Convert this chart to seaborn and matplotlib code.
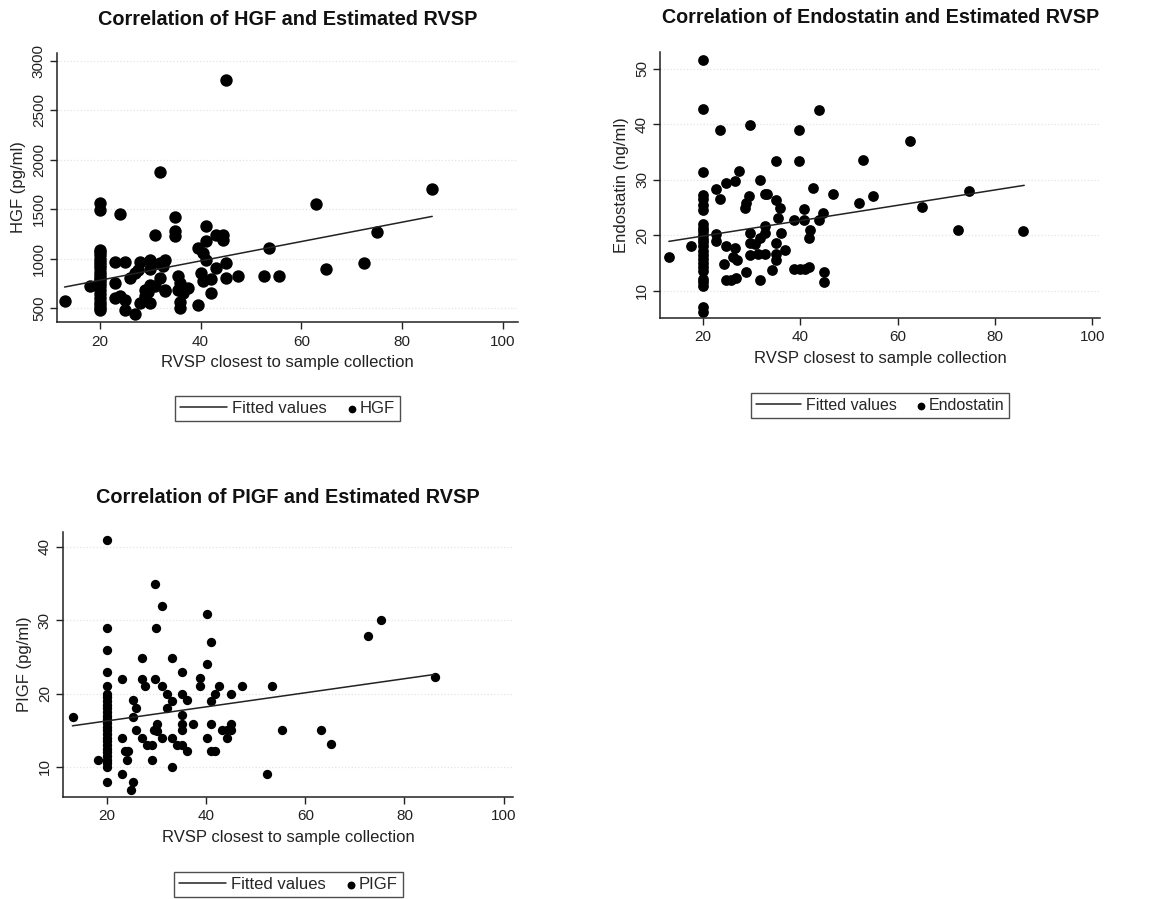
import numpy as np
import pandas as pd
import matplotlib
matplotlib.use('Agg')
import matplotlib.pyplot as plt
from matplotlib.collections import PathCollection
from matplotlib.legend_handler import HandlerPathCollection
import seaborn as sns

sns.set_theme(style='white')
plt.rcParams['font.family'] = ['Liberation Sans', 'DejaVu Sans']

# ---------------- HGF panel ----------------
hgf_rvsp = [13, 18,
            20, 20, 20, 20, 20, 20, 20, 20, 20, 20, 20, 20, 20, 20, 20, 20, 20, 20, 20, 20, 20, 20,
            24, 23, 25, 28, 23, 23, 24, 25, 25, 27, 26, 27, 27.5, 28, 29, 29, 30, 30, 30, 31, 32,
            32, 33, 32.5, 32, 31, 33, 30, 29.5, 33, 35, 35, 35, 35.5, 35.5, 36, 36.5, 36, 36, 37.5,
            39.5, 40.5, 41, 41, 41, 40, 40.5, 42, 42, 39.5, 43, 43, 44.5, 44.5, 45, 45, 45,
            47.5, 52.5, 53.5, 55.5, 63, 65, 72.5, 75, 86]
hgf_vals = [575, 720,
            480, 500, 530, 560, 600, 640, 680, 720, 750, 780, 800, 830, 860, 900, 940, 970,
            1000, 1040, 1070, 1090, 1490, 1560,
            1450, 970, 970, 970, 750, 600, 620, 580, 480, 435, 800, 855, 885, 550, 685, 620, 550,
            990, 890, 1240, 1880,
            955, 990, 920, 800, 720, 685, 735, 660, 670, 1425, 1275, 1225, 820, 685, 750, 650, 565, 500, 700,
            1105, 1055, 990, 1325, 1175, 855, 770, 790, 650, 535, 905, 1240, 1240, 1190, 2810, 955, 800,
            825, 820, 1105, 820, 1550, 890, 960, 1270, 1700]
hgf_fit_x = [13, 86]
hgf_fit_y = [712, 1427]

# ---------------- Endostatin panel ----------------
endo_rvsp = [13, 17.6,
             20, 20, 20, 20, 20, 20, 20, 20, 20, 20, 20, 20, 20, 20, 20, 20, 20, 20, 20, 20, 20, 20, 20, 20, 20,
             22.7, 22.7, 23.6, 22.7, 23.6, 24.8, 24.8, 24.4, 24.8, 26.6, 27.5, 26.6, 26.2, 26.9, 25.8, 26.8,
             28.9, 28.8, 29.5, 28.6, 29.6, 29.6, 29.6, 29.6, 30.6, 31.8, 31.8, 32.7, 33.2, 31.8, 32.7, 32.7,
             32.7, 31.3, 34.2, 35.1, 35.1, 35.8, 35.4, 36.1, 35.1, 35.1, 35.1, 36.8,
             39.7, 39.7, 38.8, 40.8, 40.8, 41.9, 41.7, 38.8, 39.9, 40.9, 41.7, 42.6, 43.8, 43.8, 44.7,
             44.9, 44.9, 46.7, 52, 52.9, 54.9, 62.6, 64.9, 72.4, 74.7, 85.8]
endo_vals = [16.1, 18.0,
             6.2, 7.1, 10.9, 11.5, 12.2, 13.5, 14.3, 15.0, 15.8, 16.5, 17.2, 18.0, 18.7, 19.4, 20.0,
             20.7, 21.4, 22.0, 24.6, 25.5, 26.5, 27.3, 31.4, 42.8, 51.5,
             20.2, 18.9, 39.0, 28.4, 26.6, 29.4, 18.0, 14.9, 12.0, 29.7, 31.5, 17.7, 16.1, 15.5, 11.9, 12.3,
             13.4, 25.9, 27.0, 24.9, 39.9, 20.4, 18.6, 16.4, 18.4, 30.0, 11.9, 27.5, 27.5, 19.5, 21.6, 20.4,
             16.7, 16.7, 13.7, 33.3, 26.4, 24.9, 23.1, 20.4, 18.6, 15.5, 16.7, 17.3,
             39.0, 33.4, 22.8, 24.7, 22.8, 21.0, 19.6, 13.9, 13.9, 13.9, 14.3, 28.5, 42.5, 22.8, 24.0,
             13.4, 11.6, 27.4, 25.9, 33.6, 27.1, 36.9, 25.1, 21.0, 28.0, 20.8]
endo_fit_x = [13, 86]
endo_fit_y = [18.9, 29.0]

# ---------------- PlGF panel ----------------
plgf_rvsp = [13.2, 18.1,
             20, 20, 20, 20, 20, 20, 20, 20, 20,
             20, 20, 20, 20, 20, 20, 20, 20, 20,
             20, 20, 20, 20, 20, 20, 20, 20, 20,
             23, 23, 23, 23.7, 24, 24.2, 24.8, 25.2, 25.2, 25.2, 25.9, 27, 27, 27.7, 25.9, 27, 28, 29, 29,
             29.7, 29.9, 31, 29.7, 31, 32.1, 32.1, 29.5, 30.1, 30.1, 31.1, 33, 33, 33, 34.1, 35.2, 36.1, 33,
             35.1, 35.1, 36.1, 35.1, 35.1, 35.1, 37.3, 38.8, 38.8, 40.1, 40.1, 40.9, 40.1, 40.9, 40.9, 41.8,
             40.9, 41.8, 42.6, 43.2, 44.2, 44.2, 45, 45, 45, 47.2, 52.2, 53.2, 55.2, 63.1, 65.2, 72.7, 75.2, 86.1]
plgf_vals = [16.8, 11.0,
             8, 10, 10.5, 11, 11.5, 12, 12.5, 13, 13.5,
             14, 14.5, 15, 15.5, 16, 16.5, 17, 17.5, 18,
             18.5, 19, 19.5, 20, 21, 23, 26, 29, 41,
             22.0, 14.0, 9.0, 12.1, 11.0, 12.1, 6.9, 8.0, 19.1, 16.8, 18.0, 24.9, 22.0, 21.0, 15.0, 14.0, 13.0, 13.0, 11.0,
             34.9, 29.0, 32.0, 22.0, 21.0, 20.0, 18.0, 15.0, 15.9, 14.9, 14.0, 24.9, 19.0, 14.0, 13.0, 13.0, 12.1, 10.0,
             23.0, 20.0, 19.1, 17.1, 15.9, 15.0, 15.9, 22.1, 21.0, 30.9, 24.0, 27.0, 14.0, 15.9, 12.1, 12.1,
             19.0, 20.0, 21.0, 15.0, 15.0, 14.0, 15.9, 15.0, 20.0, 21.0, 9.0, 21.0, 15.0, 15.0, 13.1, 27.9, 30.0, 22.2]
plgf_fit_x = [13, 86]
plgf_fit_y = [15.6, 22.6]

x_ticks = [20, 40, 60, 80, 100]

fig = plt.figure(figsize=(11.52, 8.99), dpi=100)
fig.patch.set_facecolor('white')

HANDLE_LEN = 2.8


def draw_panel(rect, xs, ys, fx, fy, name, ylabel, title, yticks, ylim, xlim, msize,
               title_pad, title_fs, leg_y, leg_fs, mscale):
    ax = fig.add_axes(rect)
    fit_df = pd.DataFrame({'x': fx, 'y': fy})
    pts_df = pd.DataFrame({'x': xs, 'y': ys})
    sns.lineplot(data=fit_df, x='x', y='y', ax=ax, color='#222222', linewidth=1.1,
                 label='Fitted values', zorder=3)
    sns.scatterplot(data=pts_df, x='x', y='y', ax=ax, color='black', s=msize, linewidth=0,
                    label=name, zorder=2)
    ax.set_xlim(*xlim)
    ax.set_ylim(*ylim)
    ax.set_xticks(x_ticks)
    ax.set_yticks(yticks)
    ax.set_yticklabels([str(t) for t in yticks], rotation=90, va='center')
    ax.tick_params(axis='both', which='major', direction='out', length=5, width=1,
                   color='#222222', labelsize=11, labelcolor='#222222',
                   bottom=True, left=True)
    ax.tick_params(axis='x', pad=4)
    ax.tick_params(axis='y', pad=3)
    for sp in ['top', 'right']:
        ax.spines[sp].set_visible(False)
    for sp in ['left', 'bottom']:
        ax.spines[sp].set_color('#222222')
        ax.spines[sp].set_linewidth(1.1)
    ax.yaxis.grid(True, color='#e4e4e4', linestyle=':', linewidth=0.9)
    ax.set_axisbelow(True)
    ax.set_xlabel('RVSP closest to sample collection', fontsize=12, color='#222222', labelpad=5)
    ax.set_ylabel(ylabel, fontsize=12, color='#222222', labelpad=4)
    ax.set_title(title, fontsize=title_fs, fontweight='bold', color='#111111', pad=title_pad)
    h, l = ax.get_legend_handles_labels()
    scatter_handler = HandlerPathCollection(xpad=HANDLE_LEN - 0.2)
    leg = ax.legend(h, l, loc='upper center', bbox_to_anchor=(0.5, leg_y), ncol=2,
                    frameon=True, fancybox=False, edgecolor='#222222', fontsize=leg_fs,
                    handlelength=HANDLE_LEN, handletextpad=0.35, columnspacing=-1.2,
                    borderpad=0.3, markerscale=mscale,
                    handler_map={PathCollection: scatter_handler})
    leg.get_frame().set_linewidth(1.0)
    return ax


draw_panel([0.0495, 0.6418, 0.400, 0.2992], hgf_rvsp, hgf_vals, hgf_fit_x, hgf_fit_y,
           'HGF', 'HGF (pg/ml)', 'Correlation of HGF and Estimated RVSP',
           [500, 1000, 1500, 2000, 2500, 3000], (358, 3080), (11.5, 103), 80, 20, 14.3,
           -0.245, 12, 0.62)

draw_panel([0.573, 0.6463, 0.382, 0.2957], endo_rvsp, endo_vals, endo_fit_x, endo_fit_y,
           'Endostatin', 'Endostatin (ng/ml)', 'Correlation of Endostatin and Estimated RVSP',
           [10, 20, 30, 40, 50], (5.1, 53), (11.2, 101.6), 60, 21, 14.2,
           -0.253, 11.5, 0.72)

draw_panel([0.0547, 0.1135, 0.391, 0.2945], plgf_rvsp, plgf_vals, plgf_fit_x, plgf_fit_y,
           'PIGF', 'PIGF (pg/ml)', 'Correlation of PIGF and Estimated RVSP',
           [10, 20, 30, 40], (5.9, 42), (11.1, 102), 45, 21, 14.3,
           -0.253, 12, 0.85)

fig.savefig('out.png', dpi=100, facecolor='white')
